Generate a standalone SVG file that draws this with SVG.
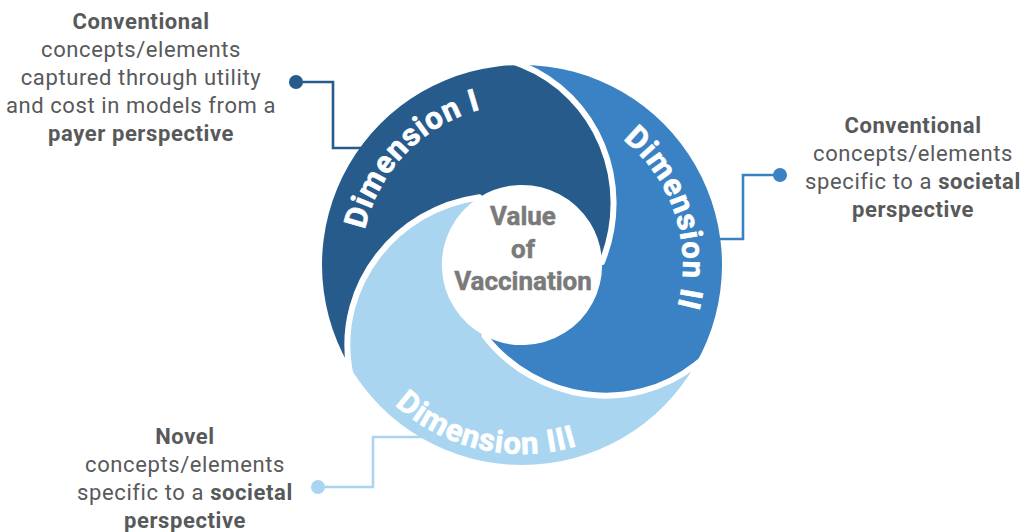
<svg xmlns="http://www.w3.org/2000/svg" width="1023" height="532" viewBox="0 0 1023 532">
<style>
.side{font-family:Roboto,"Liberation Sans",sans-serif;font-size:22px;fill:#58595b;text-anchor:middle;letter-spacing:0.6px}
.b{font-weight:700}
.center{font-family:Roboto,"Liberation Sans",sans-serif;font-size:26px;font-weight:700;fill:#7a7a7a;stroke:#7a7a7a;stroke-width:0.5;text-anchor:middle}
.dim{font-family:Roboto,"Liberation Sans",sans-serif;font-size:31px;font-weight:700;fill:#ffffff;stroke:#ffffff;stroke-width:0.7;letter-spacing:1px}
.conn{fill:none;stroke-width:2.6}
.gap{fill:none;stroke:#ffffff;stroke-width:6;stroke-linecap:round}
</style>
<defs>
<path id="piece" d="M-173.2,100 A200,200 0 0 1 0,-200 C75,-170 112,-82 80,-3 A80,80 0 0 0 -42.6,-67.8 C-127,-56 -184.7,20 -173.2,100 Z"/>
<path id="gapcurve" d="M-18.6,-207.4 L0,-200 C75,-170 112,-82 80,-3"/>
<path id="arc1" d="M367.2,309.4 A161,161 0 0 1 560.9,108.8"/>
<path id="arc2" d="M555.5,107.5 A161,161 0 0 1 641.6,372.7"/>
<path id="arc3" d="M341.7,321.8 A189,189 0 0 0 661.3,392.7"/>
</defs>
<rect width="1023" height="532" fill="#ffffff"/>
<g id="connectors">
<path class="conn" stroke="#265b8c" d="M296,82 H333 V148 H365"/>
<circle cx="296" cy="82" r="7" fill="#265b8c"/>
<path class="conn" stroke="#3a82c4" d="M780,175 H743 V239 H715"/>
<circle cx="780" cy="175" r="7" fill="#3a82c4"/>
<path class="conn" stroke="#a9d5f1" d="M318,487 H373 V437 H425"/>
<circle cx="318" cy="487" r="7" fill="#a9d5f1"/>
</g>
<g id="wheel" transform="translate(522,265)">
<g id="dimension-1"><use href="#piece" fill="#265b8c"/></g>
<g id="dimension-2"><use href="#piece" fill="#3a82c4" transform="rotate(120)"/></g>
<g id="dimension-3"><use href="#piece" fill="#a9d5f1" transform="rotate(240)"/></g>
<g id="gaps">
<use href="#gapcurve" class="gap"/>
<use href="#gapcurve" class="gap" transform="rotate(120)"/>
<use href="#gapcurve" class="gap" transform="rotate(240)"/>
</g>
</g>
<g id="dimension-labels">
<text class="dim"><textPath href="#arc1" startOffset="50%" text-anchor="middle">Dimension I</textPath></text>
<text class="dim"><textPath href="#arc2" startOffset="50%" text-anchor="middle">Dimension II</textPath></text>
<text class="dim"><textPath href="#arc3" startOffset="50%" text-anchor="middle">Dimension III</textPath></text>
</g>
<g id="center-node">
<text class="center" x="523" y="225">Value</text>
<text class="center" x="523" y="258">of</text>
<text class="center" x="523" y="290">Vaccination</text>
</g>
<g id="text-dimension-1">
<text class="side b" x="141" y="29">Conventional</text>
<text class="side" x="141" y="57">concepts/elements</text>
<text class="side" x="141" y="85">captured through utility</text>
<text class="side" x="141" y="113">and cost in models from a</text>
<text class="side b" x="141" y="141">payer perspective</text>
</g>
<g id="text-dimension-2">
<text class="side b" x="913" y="133">Conventional</text>
<text class="side" x="913" y="161">concepts/elements</text>
<text class="side" x="913" y="189">specific to a <tspan class="b">societal</tspan></text>
<text class="side b" x="913" y="217">perspective</text>
</g>
<g id="text-dimension-3">
<text class="side b" x="185" y="444">Novel</text>
<text class="side" x="185" y="472">concepts/elements</text>
<text class="side" x="185" y="500">specific to a <tspan class="b">societal</tspan></text>
<text class="side b" x="185" y="528">perspective</text>
</g>
</svg>
